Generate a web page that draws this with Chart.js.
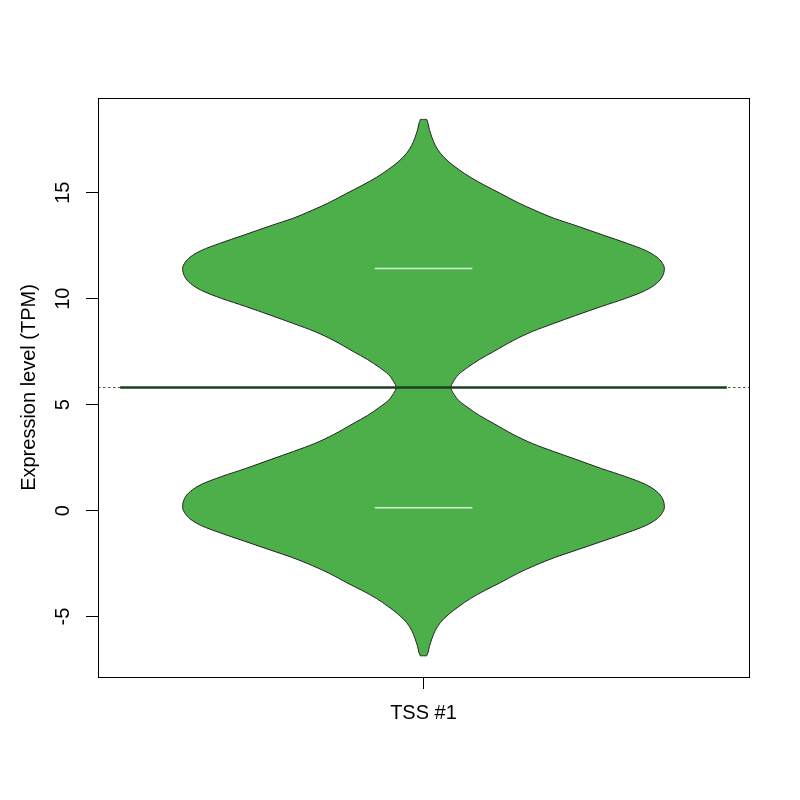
<!DOCTYPE html>
<html>
<head>
<meta charset="utf-8">
<title>TSS #1</title>
<script src="https://cdn.jsdelivr.net/npm/chart.js"></script>
<style>
    html, body { margin: 0; padding: 0; background: #ffffff; }
    #grafico { display: block; }
</style>
</head>
<body>
<canvas id="grafico" width="800" height="800"></canvas>
<script>
const categorias = ["TSS #1"];
const tituloY = "Expression level (TPM)";
const ticksY = [-5, 0, 5, 10, 15];

// contorno do violino (metade direita), de cima para baixo
const perfilY = [
    18.46, 18.27, 17.99, 17.61, 17.24, 16.86, 16.48, 16.10, 15.73, 15.35,
    14.97, 14.55, 14.17, 13.79, 13.42, 12.99, 12.61, 12.28, 11.95, 11.72,
    11.43, 11.05, 10.72, 10.39, 10.01, 9.63, 9.21, 8.83, 8.45, 8.03,
    7.51, 7.13, 6.76, 6.43, 6.09, 5.81,
    5.53, 5.20, 4.87, 4.49, 4.11, 3.59, 3.17, 2.79, 2.42, 1.99,
    1.61, 1.24, 0.91, 0.58, 0.15, -0.14, -0.38, -0.71, -1.04, -1.42,
    -1.84, -2.22, -2.59, -2.97, -3.40, -3.77, -4.15, -4.53, -4.91, -5.28,
    -5.66, -6.04, -6.42, -6.70, -6.85
];
const perfilLargura = [
    0.005, 0.007, 0.009, 0.013, 0.018, 0.026, 0.038, 0.054, 0.072, 0.094,
    0.118, 0.144, 0.171, 0.201, 0.237, 0.277, 0.313, 0.341, 0.359, 0.366,
    0.370, 0.367, 0.358, 0.341, 0.310, 0.273, 0.234, 0.200, 0.167, 0.138,
    0.108, 0.086, 0.068, 0.054, 0.046, 0.042,
    0.046, 0.054, 0.068, 0.086, 0.108, 0.138, 0.167, 0.200, 0.234, 0.273,
    0.310, 0.341, 0.358, 0.367, 0.370, 0.366, 0.359, 0.341, 0.313, 0.277,
    0.237, 0.201, 0.171, 0.144, 0.118, 0.094, 0.072, 0.054, 0.038, 0.026,
    0.018, 0.013, 0.009, 0.007, 0.005
];

const media = 5.81;
const medianas = [11.42, 0.14];


const FONTE = "'Liberation Sans', Arial, Helvetica, sans-serif";
const centro = 1;
const meiaLinhaMedia = 0.466;
const meiaLinhaMediana = 0.075;


function montarContorno() {
    const direita = perfilY.map((y, i) => ({ x: centro + perfilLargura[i], y }));
    const esquerda = perfilY
        .map((y, i) => ({ x: centro - perfilLargura[i], y }))
        .reverse();

    return direita.concat(esquerda, [direita[0]]);
}


const molduraR = {
    id: "molduraR",
    afterDraw(chart) {
        const { ctx, chartArea, scales } = chart;

        ctx.save();
        ctx.strokeStyle = "#000000";
        ctx.lineWidth = 1;
        ctx.strokeRect(
            chartArea.left + 0.5,
            chartArea.top + 0.5,
            chartArea.right - chartArea.left,
            chartArea.bottom - chartArea.top
        );

        ctx.fillStyle = "#000000";
        ctx.font = "20px " + FONTE;
        ctx.textAlign = "center";
        ctx.textBaseline = "alphabetic";

        ticksY.forEach(valor => {
            const y = scales.y.getPixelForValue(valor);
            ctx.save();
            ctx.translate(69, y);
            ctx.rotate(-Math.PI / 2);
            ctx.fillText(String(valor), 0, 0);
            ctx.restore();
        });

        ctx.save();
        ctx.translate(35, (chartArea.top + chartArea.bottom) / 2);
        ctx.rotate(-Math.PI / 2);
        ctx.fillText(tituloY, 0, 0);
        ctx.restore();

        ctx.restore();
    }
};


document.addEventListener("DOMContentLoaded", () => {
    const ctx = document.getElementById("grafico").getContext("2d");

    const datasets = [
        {
            label: "overall",
            data: [{ x: 0.5, y: media }, { x: 1.5, y: media }],
            borderColor: "#555555",
            borderWidth: 1,
            borderDash: [2.5, 2.5],
            pointRadius: 0,
            order: 4
        },
        {
            label: "bean",
            data: montarContorno(),
            borderColor: "#222222",
            borderWidth: 1,
            backgroundColor: "#4DAF4A",
            fill: "shape",
            cubicInterpolationMode: "monotone",
            pointRadius: 0,
            order: 3
        },
        {
            label: "mean",
            data: [
                { x: centro - meiaLinhaMedia, y: media },
                { x: centro + meiaLinhaMedia, y: media }
            ],
            borderColor: "#1e3f1e",
            borderWidth: 2.5,
            pointRadius: 0,
            order: 2
        }
    ];

    medianas.forEach(valor => {
        datasets.push({
            label: "median",
            data: [
                { x: centro - meiaLinhaMediana, y: valor },
                { x: centro + meiaLinhaMediana, y: valor }
            ],
            borderColor: "#d2eacf",
            borderWidth: 1.5,
            pointRadius: 0,
            order: 1
        });
    });

    new Chart(ctx, {
        type: "line",
        data: { datasets },
        options: {
            indexAxis: "y",
            responsive: false,
            animation: false,
            devicePixelRatio: 1,
            layout: {
                padding: { top: 98, right: 51, bottom: 0, left: 0 }
            },
            plugins: {
                legend: { display: false },
                tooltip: { enabled: false }
            },
            scales: {
                x: {
                    type: "linear",
                    min: 0.5,
                    max: 1.5,
                    afterBuildTicks: escala => {
                        escala.ticks = categorias.map((c, i) => ({ value: i + 1 }));
                    },
                    afterFit: escala => {
                        escala.height = 123;
                    },
                    border: { display: false },
                    grid: {
                        drawOnChartArea: false,
                        drawTicks: true,
                        tickLength: 12,
                        color: "#000000"
                    },
                    ticks: {
                        padding: 12,
                        color: "#000000",
                        maxRotation: 0,
                        autoSkip: false,
                        font: { family: FONTE, size: 20 },
                        callback: valor => categorias[Math.round(valor) - 1]
                    }
                },
                y: {
                    type: "linear",
                    min: -7.85,
                    max: 19.47,
                    afterBuildTicks: escala => {
                        escala.ticks = ticksY.map(v => ({ value: v }));
                    },
                    afterFit: escala => {
                        escala.width = 98;
                    },
                    border: { display: false },
                    grid: {
                        drawOnChartArea: false,
                        drawTicks: true,
                        tickLength: 12,
                        color: "#000000"
                    },
                    ticks: { display: false }
                }
            }
        },
        plugins: [molduraR]
    });
});
</script>
</body>
</html>
